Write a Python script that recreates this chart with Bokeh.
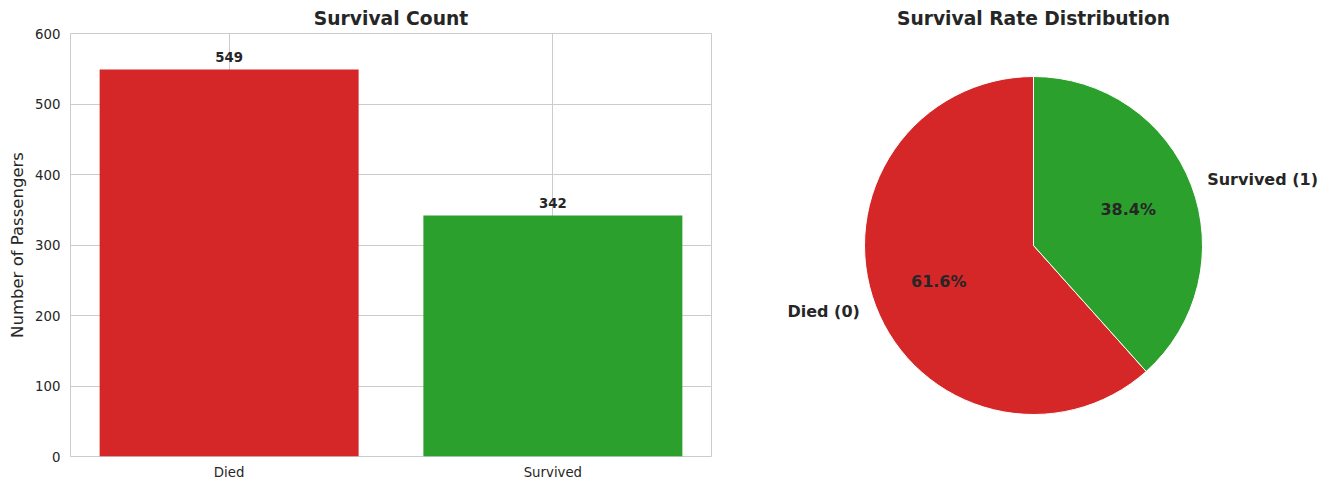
import math
from bokeh.plotting import figure
from bokeh.layouts import row
from bokeh.models import ColumnDataSource, FixedTicker, Range1d
from bokeh.embed import file_html
from bokeh.resources import INLINE
from bokeh.core.properties import value

# ---- data ----
categories = ["Died", "Survived"]
counts = [549, 342]
colors = ["#d62728", "#2ca02c"]
pie_labels = ["Died (0)", "Survived (1)"]
y_ticks = [0, 100, 200, 300, 400, 500, 600]

FONT = "DejaVu Sans"
TXT = "#262626"
GRID = "#cccccc"

H = 490
TOP = 33
BOTTOM = 34

# ---- bar chart ----
p1 = figure(width=735, height=H, x_range=Range1d(-0.49, 1.49), y_range=Range1d(0, 600),
            output_backend="svg", toolbar_location=None,
            min_border_left=70, min_border_right=24, min_border_top=TOP, min_border_bottom=BOTTOM)
p1.title.text = "Survival Count"
p1.title.align = "center"
p1.title.text_font = FONT
p1.title.text_font_size = "18.7px"
p1.title.text_font_style = "bold"
p1.title.text_color = TXT

xs = list(range(len(categories)))
src = ColumnDataSource(dict(x=xs, top=counts, color=colors, lab=[str(c) for c in counts]))
p1.vbar(x="x", top="top", width=0.8, fill_color="color", line_color=None, source=src)
p1.text(x="x", y="top", text="lab", source=src, text_align="center", text_baseline="middle",
        y_offset=-12, text_font=value(FONT), text_font_size="13.3px", text_font_style="bold",
        text_color=TXT)

p1.xaxis.ticker = FixedTicker(ticks=xs)
p1.xaxis.major_label_overrides = {i: c for i, c in enumerate(categories)}
p1.yaxis.ticker = FixedTicker(ticks=y_ticks)
p1.yaxis.axis_label = "Number of Passengers"
for ax in (p1.xaxis[0], p1.yaxis[0]):
    ax.axis_line_color = None
    ax.major_tick_line_color = None
    ax.minor_tick_line_color = None
    ax.major_tick_out = 0
    ax.major_tick_in = 0
    ax.minor_tick_out = 0
    ax.major_label_text_font = FONT
    ax.major_label_text_font_size = "13.3px"
    ax.major_label_text_color = TXT
p1.xaxis.major_label_standoff = 8
p1.yaxis.major_label_standoff = 10
p1.xaxis.axis_label_standoff = 0
p1.yaxis.axis_label_text_font = FONT
p1.yaxis.axis_label_text_font_size = "16.5px"
p1.yaxis.axis_label_text_font_style = "normal"
p1.yaxis.axis_label_text_color = TXT
p1.yaxis.axis_label_standoff = 5
p1.xgrid.ticker = FixedTicker(ticks=xs)
p1.ygrid.ticker = FixedTicker(ticks=y_ticks)
p1.grid.grid_line_color = GRID
p1.grid.grid_line_width = 1
p1.outline_line_color = GRID
p1.outline_line_width = 1
p1.background_fill_color = "white"

# ---- pie chart ----
R = 169
p2 = figure(width=596, height=H, x_range=Range1d(-298, 298), y_range=Range1d(-211, 212),
            output_backend="svg", toolbar_location=None,
            min_border_left=0, min_border_right=0, min_border_top=TOP, min_border_bottom=BOTTOM)
p2.title.text = "Survival Rate Distribution"
p2.title.align = "center"
p2.title.text_font = FONT
p2.title.text_font_size = "18.7px"
p2.title.text_font_style = "bold"
p2.title.text_color = TXT
p2.axis.visible = False
p2.grid.visible = False
p2.outline_line_color = None

total = sum(counts)
start = math.pi / 2
starts, ends, lx, ly, la, px, py, pt = [], [], [], [], [], [], [], []
for c in counts:
    frac = c / total
    end = start + frac * 2 * math.pi
    mid = (start + end) / 2
    starts.append(start)
    ends.append(end)
    lx.append(1.1 * R * math.cos(mid))
    ly.append(1.1 * R * math.sin(mid))
    la.append("right" if math.cos(mid) < 0 else "left")
    px.append(0.6 * R * math.cos(mid))
    py.append(0.6 * R * math.sin(mid))
    pt.append(f"{frac * 100:.1f}%")
    start = end

wsrc = ColumnDataSource(dict(s=starts, e=ends, color=colors, lx=lx, ly=ly, la=la,
                             lab=pie_labels, px=px, py=py, pt=pt))
p2.wedge(x=0, y=0, radius=R, start_angle="s", end_angle="e", direction="anticlock",
         fill_color="color", line_color="white", line_width=1, source=wsrc)
p2.text(x="lx", y="ly", text="lab", text_align="la", text_baseline="middle", source=wsrc,
        text_font=value(FONT), text_font_size="16px", text_font_style="bold", text_color=TXT)
p2.text(x="px", y="py", text="pt", text_align="center", text_baseline="middle", source=wsrc,
        text_font=value(FONT), text_font_size="16px", text_font_style="bold", text_color=TXT)

layout = row(p1, p2)
open("out.html", "w").write(file_html(layout, INLINE))
